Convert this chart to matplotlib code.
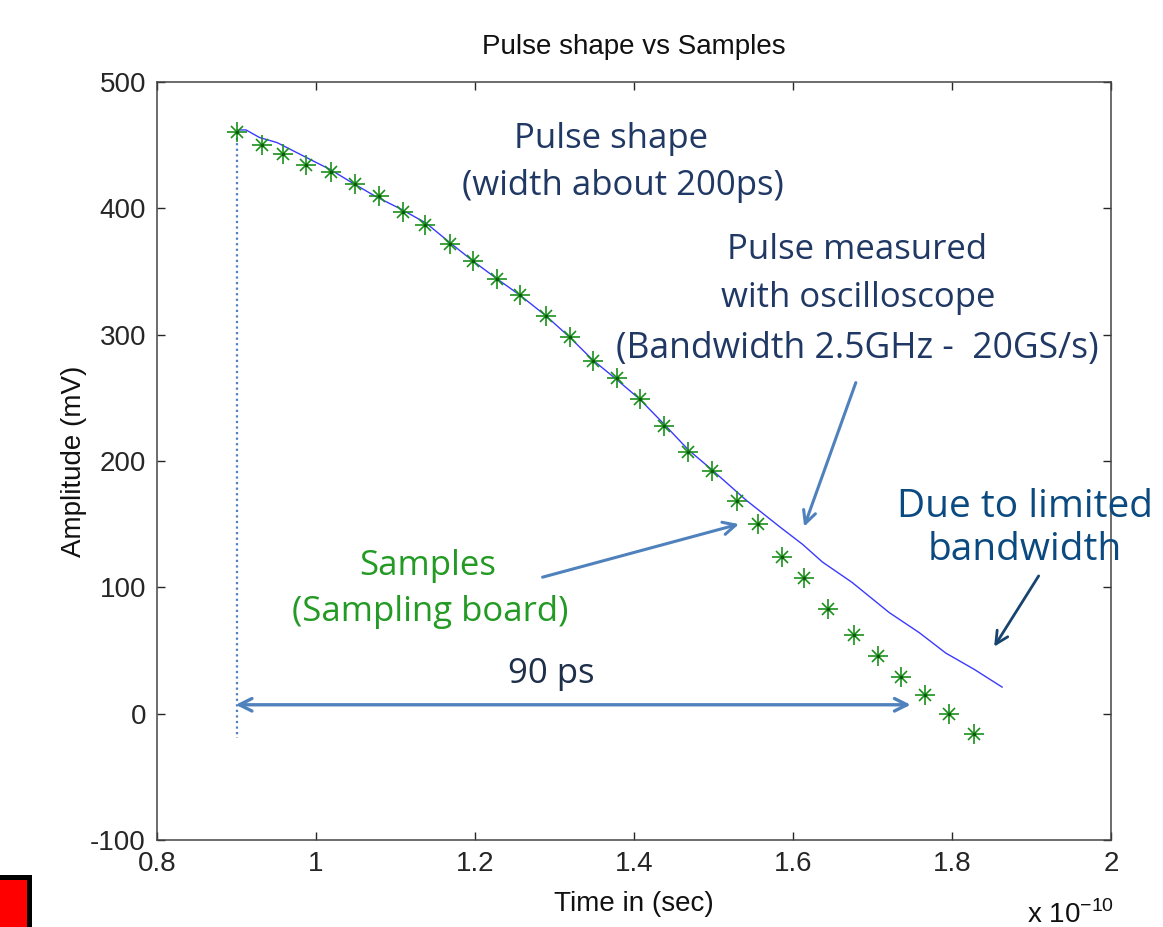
import matplotlib
matplotlib.use("Agg")
import matplotlib.pyplot as plt
from matplotlib.patches import Rectangle
from matplotlib.ticker import FuncFormatter

# ---- data (time in units of 1e-10 s, amplitude in mV) ----
sample_t = [0.900, 0.932, 0.958, 0.988, 1.019, 1.049, 1.079, 1.109, 1.137, 1.168,
            1.198, 1.228, 1.257, 1.289, 1.319, 1.348, 1.379, 1.407, 1.438, 1.468,
            1.498, 1.529, 1.556, 1.586, 1.614, 1.644, 1.677, 1.707, 1.736, 1.766,
            1.796, 1.828]
sample_v = [460, 450, 443, 434, 429, 419, 410, 397, 387, 372,
            358, 344, 331, 315, 298, 279, 266, 249, 228, 207,
            192, 168, 150, 124, 107, 83, 62, 46, 29, 15,
            0, -16]

scope_t = [0.902, 0.912, 0.929, 0.951, 0.976, 1.001, 1.017, 1.046, 1.076, 1.108,
           1.139, 1.168, 1.198, 1.228, 1.257, 1.289, 1.319, 1.348, 1.379, 1.407,
           1.438, 1.468, 1.498, 1.541, 1.583, 1.612, 1.637, 1.674, 1.721, 1.759,
           1.792, 1.828, 1.863]
scope_v = [462, 462, 456, 452, 444, 436, 431, 420, 409, 399,
           388, 373, 358, 344, 331, 315, 298, 280, 264, 249,
           229, 209, 193, 169, 148, 134, 120, 104, 80, 64,
           48, 35, 21]

x_ticks = [0.8, 1.0, 1.2, 1.4, 1.6, 1.8, 2.0]
y_ticks = [-100, 0, 100, 200, 300, 400, 500]

title = "Pulse shape vs Samples"
xlabel = "Time in (sec)"
ylabel = "Amplitude (mV)"

plt.rcParams['font.family'] = ['Liberation Sans', 'DejaVu Sans']
plt.rcParams['mathtext.fontset'] = 'custom'
plt.rcParams['mathtext.rm'] = 'Liberation Sans'
plt.rcParams['axes.unicode_minus'] = False

fig = plt.figure(figsize=(11.63, 9.27), dpi=100)
ax = fig.add_axes([0.135, 0.0939, 0.8203, 0.8177])

# start marker line (dotted vertical)
ax.plot([sample_t[0], sample_t[0]], [sample_v[0], -19], color='#4f81bd',
        linestyle=(0, (1, 1.5)), lw=1.6, zorder=1)

# oscilloscope trace
ax.plot(scope_t, scope_v, color='#3a3aff', lw=1.0, zorder=2)

# samples: MATLAB-style asterisk (plus + x)
ax.plot(sample_t, sample_v, linestyle='none', marker='+', markersize=14,
        markeredgewidth=1.2, color='#1a901a', zorder=3)
ax.plot(sample_t, sample_v, linestyle='none', marker='x', markersize=9,
        markeredgewidth=1.2, color='#1a901a', zorder=3)
ax.plot(sample_t, sample_v, linestyle='none', marker='o', markersize=2.5,
        markeredgewidth=0, color='#0a5a0a', zorder=4)

ax.set_xlim(0.8, 2.0)
ax.set_ylim(-100, 500)
ax.set_xticks(x_ticks)
ax.set_yticks(y_ticks)
ax.xaxis.set_major_formatter(FuncFormatter(lambda v, p: '%g' % round(v, 3)))
ax.tick_params(direction='in', length=6, width=1, top=True, right=True,
               labelsize=20, colors='#262626', pad=8)
for s in ax.spines.values():
    s.set_color('#444444')
    s.set_linewidth(1.1)

ax.set_title(title, fontsize=20, pad=20, color='#111111')
ax.set_xlabel(xlabel, fontsize=20, labelpad=10, color='#111111')
ax.set_ylabel(ylabel, fontsize=20, labelpad=2, color='#111111')
fig.text(1027 / 1163, 4 / 927, r'x 10$^{\mathregular{-10}}$', fontsize=20,
         color='#111111', ha='left', va='baseline')

# annotations (one text per line, baseline-anchored)
afont = ['Open Sans', 'DejaVu Sans']
navy = '#203864'
green = '#239a23'
lines = [
    ("Pulse shape", 1.3716, 448.1, 25, navy),
    ("(width about 200ps)", 1.3854, 410.9, 25, navy),
    ("Pulse measured", 1.6807, 359.5, 25, navy),
    ("with oscilloscope", 1.6820, 321.5, 25, navy),
    ("(Bandwidth 2.5GHz -  20GS/s)", 1.6807, 281.1, 25.6, navy),
    ("Samples", 1.1405, 110.1, 25, green),
    ("(Sampling board)", 1.1430, 73.6, 25, green),
    ("90 ps", 1.2960, 24.5, 25, '#1e2f4a'),
    ("Due to limited", 1.8917, 156.0, 28, '#0b4a80'),
    ("bandwidth", 1.8917, 121.9, 28, '#0b4a80'),
]
for txt, x, y, fs, col in lines:
    ax.text(x, y, txt, family=afont, fontsize=fs, color=col, ha='center',
            va='baseline', clip_on=False)

arrow_kw = dict(arrowstyle='->,head_length=0.9,head_width=0.45', color='#4f81bd', lw=2.2,
                shrinkA=0, shrinkB=0)
ax.annotate('', xy=(1.614, 148), xytext=(1.679, 262), arrowprops=arrow_kw)
ax.annotate('', xy=(1.532, 150), xytext=(1.285, 108), arrowprops=arrow_kw)
ax.annotate('', xy=(1.748, 7), xytext=(0.899, 7),
            arrowprops=dict(arrowstyle='<->,head_length=0.9,head_width=0.45',
                            color='#4f81bd', lw=2.4, shrinkA=0, shrinkB=0))
ax.annotate('', xy=(1.853, 53), xytext=(1.909, 109), annotation_clip=False,
            arrowprops=dict(arrowstyle='->,head_length=0.9,head_width=0.45',
                            color='#17446f', lw=2.0, shrinkA=0, shrinkB=0))

# red slide marker bottom-left
fig.patches.append(Rectangle((0, 0), 32 / 1163, 52 / 927, transform=fig.transFigure,
                             facecolor='black', edgecolor='none', zorder=5))
fig.patches.append(Rectangle((0, 0), 27 / 1163, 47 / 927, transform=fig.transFigure,
                             facecolor='#ff0000', edgecolor='none', zorder=6))

fig.savefig('out.png', dpi=100, facecolor='white')
